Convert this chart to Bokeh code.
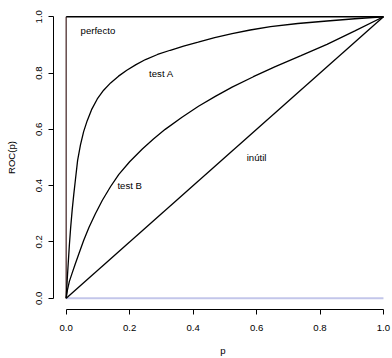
from bokeh.plotting import figure
from bokeh.models import FixedTicker, NumeralTickFormatter, Range1d
from bokeh.core.properties import value
from bokeh.embed import file_html
from bokeh.resources import INLINE

# ---- data ----
perfect_p = [0.0, 0.0, 1.0]
perfect_roc = [0.0, 1.0, 1.0]

testA_p = [0.0, 0.004, 0.007, 0.010, 0.014, 0.019, 0.024, 0.029, 0.036, 0.045,
           0.055, 0.066, 0.080, 0.098, 0.118, 0.140, 0.165, 0.191, 0.220, 0.250,
           0.288, 0.328, 0.370, 0.416, 0.468, 0.523, 0.580, 0.644, 0.730, 0.822,
           0.910, 1.0]
testA_roc = [0.0, 0.080, 0.135, 0.188, 0.250, 0.315, 0.370, 0.420, 0.490, 0.545,
             0.592, 0.630, 0.670, 0.708, 0.739, 0.765, 0.789, 0.810, 0.830, 0.848,
             0.866, 0.881, 0.896, 0.910, 0.926, 0.940, 0.953, 0.965, 0.976, 0.985,
             0.993, 1.0]

testB_p = [0.0, 0.004, 0.010, 0.019, 0.028, 0.040, 0.055, 0.072, 0.092, 0.114,
           0.140, 0.166, 0.200, 0.240, 0.275, 0.312, 0.365, 0.417, 0.470, 0.523,
           0.590, 0.659, 0.740, 0.822, 0.910, 1.0]
testB_roc = [0.0, 0.030, 0.060, 0.090, 0.120, 0.158, 0.205, 0.252, 0.300, 0.348,
             0.397, 0.440, 0.485, 0.530, 0.566, 0.600, 0.643, 0.682, 0.717, 0.750,
             0.787, 0.823, 0.862, 0.902, 0.950, 1.0]

useless_p = [0.0, 1.0]
useless_roc = [0.0, 1.0]

base_p = [0.0, 1.0]
base_roc = [0.0, 0.0]

label_text = ["perfecto", "test A", "test B", "inútil"]
label_x = [0.1, 0.3, 0.2, 0.6]
label_y = [0.95, 0.8, 0.4, 0.5]

ticks = [0.0, 0.2, 0.4, 0.6, 0.8, 1.0]

FONT = "Liberation Sans"
FS = "9.6px"

p = figure(width=392, height=358, output_backend="svg", toolbar_location=None,
           x_range=Range1d(-0.04, 1.0285), y_range=Range1d(-0.04, 1.04),
           min_border_left=53, min_border_right=0, min_border_top=5,
           min_border_bottom=46)
p.outline_line_color = None
p.grid.visible = False
p.background_fill_color = "white"
p.border_fill_color = "white"

for ax in (p.xaxis[0], p.yaxis[0]):
    ax.ticker = FixedTicker(ticks=ticks)
    ax.formatter = NumeralTickFormatter(format="0.0")
    ax.bounds = (0, 1)
    ax.minor_tick_line_color = None
    ax.major_tick_in = 0
    ax.major_tick_out = 5
    ax.axis_line_color = "black"
    ax.major_tick_line_color = "black"
    ax.major_label_text_font = FONT
    ax.major_label_text_font_size = FS
    ax.major_label_text_color = "black"
    ax.axis_label_text_font = FONT
    ax.axis_label_text_font_size = FS
    ax.axis_label_text_font_style = "normal"
    ax.axis_label_text_color = "black"

p.xaxis.axis_label = "p"
p.xaxis.major_label_standoff = 10
p.xaxis.axis_label_standoff = 11
p.yaxis.axis_label = "ROC(p)"
p.yaxis.major_label_orientation = "vertical"
p.yaxis.major_label_standoff = 6
p.yaxis.axis_label_standoff = 17

# lines
p.line(base_p, base_roc, line_color="#c3c6ea", line_width=2)
p.line(perfect_p[:2], perfect_roc[:2], line_color="#5a3e3e", line_width=1.4)
p.line(perfect_p[1:], perfect_roc[1:], line_color="black", line_width=1.3)
p.line(testA_p, testA_roc, line_color="black", line_width=1.3)
p.line(testB_p, testB_roc, line_color="black", line_width=1.3)
p.line(useless_p, useless_roc, line_color="black", line_width=1.3)

p.text(x=label_x, y=label_y, text=label_text, text_font=value(FONT),
       text_font_size=FS, text_align="center", text_baseline="middle",
       text_color="black")

open("out.html", "w").write(file_html(p, INLINE))
